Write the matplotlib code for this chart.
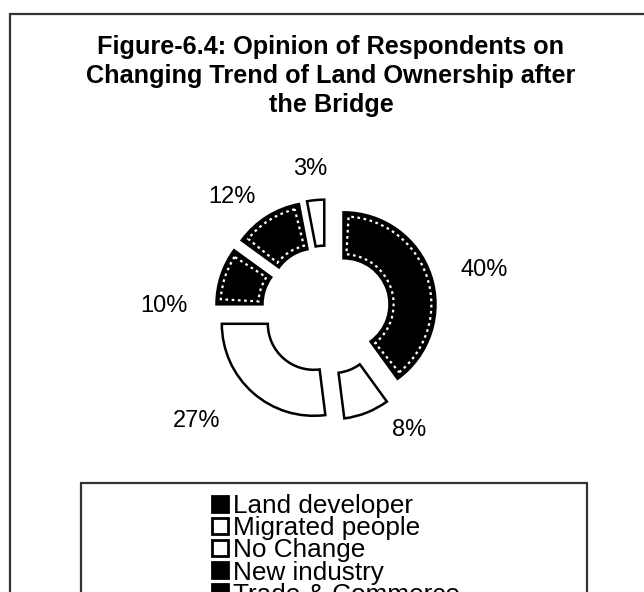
import matplotlib
matplotlib.use("Agg")
import matplotlib.pyplot as plt
from matplotlib.patches import Rectangle, Wedge
import numpy as np

# ---- data ----
categories = ["Land developer", "Migrated people", "No Change",
              "New industry", "Trade & Commerce", "Others"]
values = [40, 8, 27, 10, 12, 3]
pct_labels = ["40%", "8%", "27%", "10%", "12%", "3%"]
title = "Figure-6.4: Opinion of Respondents on\nChanging Trend of Land Ownership after\nthe Bridge"

# ---- styles ----
face_colors = ["black", "white", "white", "black", "black", "white"]
dark = [True, False, False, True, True, False]
explode = [0.2] * 6
# label placement: radial distance and angular shift (deg) from slice mid-angle
label_r = [1.77, 1.59, 1.85, 1.76, 1.60, 1.54]
label_dang = [-3.8, 13.1, -7.9, 16.6, 7.3, 0.9]

W, H = 644, 592
fig = plt.figure(figsize=(W / 100, H / 100), dpi=100)
plt.rcParams['font.family'] = ['Liberation Sans', 'DejaVu Sans']

# axes covering whole figure; pie centre at pixel (326, 310), radius 92 px
cx, cy, R = 326, 310, 92
ax = fig.add_axes([0, 0, 1, 1])
wedges, _ = ax.pie(values, explode=explode, startangle=90, counterclock=False,
                   colors=face_colors, radius=1.0,
                   wedgeprops=dict(width=0.5, edgecolor="black", linewidth=1.8),
                   labels=None)
ax.set_aspect("auto")
ax.set_xlim(-cx / R, (W - cx) / R)
ax.set_ylim((cy - H) / R, cy / R)
ax.axis("off")

# white dotted inner outline on dark wedges
for w, d in zip(wedges, dark):
    if d:
        span = w.theta2 - w.theta1
        inset = min(3.3, span * 0.12)
        ax.add_patch(Wedge(w.center, 0.955, w.theta1 + inset, w.theta2 - inset,
                           width=0.41, facecolor="none", edgecolor="white",
                           linewidth=1.6, linestyle=(0, (1.2, 1.6))))

# percentage labels
for w, txt, r, da in zip(wedges, pct_labels, label_r, label_dang):
    mid = np.deg2rad((w.theta1 + w.theta2) / 2 + da)
    ax.text(r * np.cos(mid), r * np.sin(mid), txt, ha="center", va="center",
            fontsize=17, color="black")

# title
fig.text(331 / W, 1 - 76 / H, title, ha="center", va="center",
         fontsize=18.2, fontweight="bold", linespacing=1.25)

# outer frame (extends beyond right/bottom edges)
def px_rect(x0, y0, x1, y1, **kw):
    return Rectangle((x0 / W, 1 - y1 / H), (x1 - x0) / W, (y1 - y0) / H,
                     transform=fig.transFigure, fill=False, **kw)

fig.add_artist(px_rect(10, 14, 700, 700, edgecolor="#333333", linewidth=1.6))
fig.add_artist(px_rect(81, 483, 587, 700, edgecolor="#333333", linewidth=1.6))

# legend
leg = fig.legend(wedges, categories, loc="upper left",
                 bbox_to_anchor=(212 / W, 1 - 494 / H), frameon=False,
                 borderpad=0, borderaxespad=0, handlelength=0.6, handleheight=0.58,
                 handletextpad=0.2, labelspacing=-0.07, fontsize=18.8)
for h in leg.legend_handles:
    h.set_linewidth(2.0)
    h.set_edgecolor("black")

fig.savefig("out.png", dpi=100)
